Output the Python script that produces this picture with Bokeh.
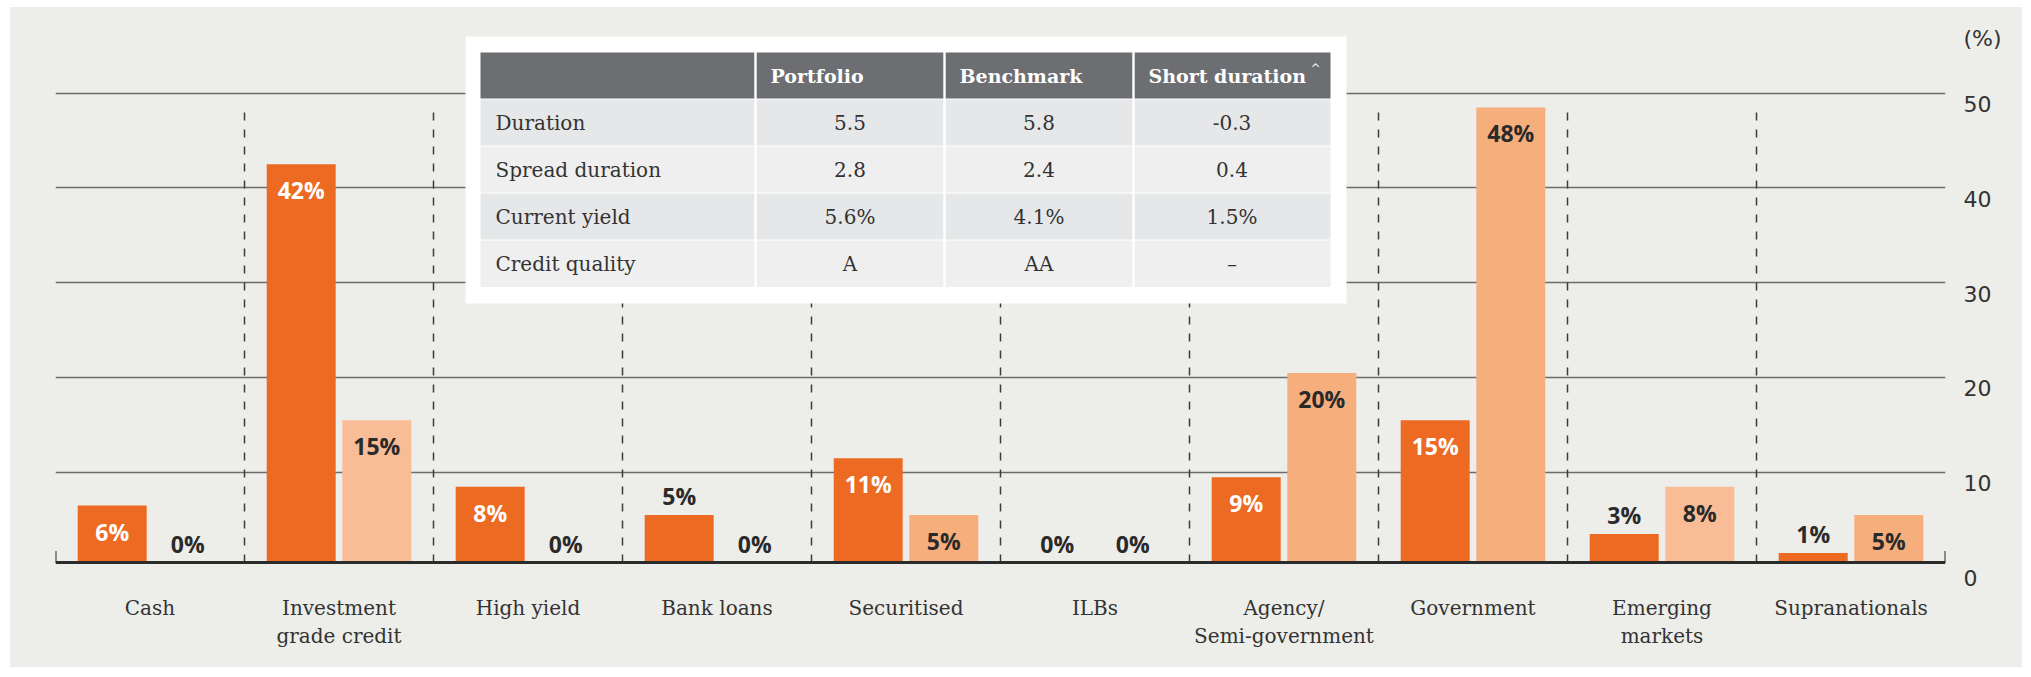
from bokeh.plotting import figure
from bokeh.models import (ColumnDataSource, FactorRange, Range1d, LinearAxis, Grid,
                          FixedTicker, Spacer)
from bokeh.layouts import row, column
from bokeh.transform import dodge
from bokeh.core.properties import value
from bokeh.embed import file_html
from bokeh.resources import INLINE

# ---------------- data ----------------
categories = ["Cash", "Investment\ngrade credit", "High yield", "Bank loans", "Securitised",
              "ILBs", "Agency/\nSemi-government", "Government", "Emerging\nmarkets",
              "Supranationals"]
portfolio = [6, 42, 8, 5, 11, 0, 9, 15, 3, 1]
benchmark = [0, 15, 0, 0, 5, 0, 20, 48, 8, 5]
y_ticks = [0, 10, 20, 30, 40, 50]
y_unit_label = "(%)"

table_header = ["Portfolio", "Benchmark", "Short duration"]
table_note_mark = "^"
table_rows = ["Duration", "Spread duration", "Current yield", "Credit quality"]
portfolio_stats = ["5.5", "2.8", "5.6%", "A"]
benchmark_stats = ["5.8", "2.4", "4.1%", "AA"]
short_duration_stats = ["-0.3", "0.4", "1.5%", "\u2013"]

# ---------------- style / layout ----------------
BG = "#EDEDE9"
ORANGE = "#EC6A22"
LIGHT_A = "#F8BD96"
LIGHT_B = "#F6AE7D"
bench_colors = [LIGHT_B, LIGHT_A, LIGHT_B, LIGHT_B, LIGHT_B, LIGHT_B, LIGHT_B, LIGHT_B, LIGHT_A, LIGHT_B]
DARK = "#2A2A2A"
SERIF = "DejaVu Serif"
SANS = "DejaVu Sans"
LABEL_FONT = "Open Sans"

OFF_X, OFF_Y = 10, 7          # panel offset on the page
W, H = 2012, 660              # panel size
FL, FR = 45, 1935             # frame left / right (panel px)
FT, FB = 0, 584               # frame top / bottom (panel px)
ZERO = 555                    # zero line (panel px)
PPU = 9.48                    # pixels per percentage point
y_start = -(FB - ZERO) / PPU
y_end = (ZERO - FT) / PPU
GRID_SHIFT = 0.48
LABEL_SHIFT = 1.69
UNIT_TICK = 57                # axis position used for the "(%)" caption
n = len(categories)
cat_px = (FR - FL) / n


def fx(X):
    return (X - OFF_X - FL) / cat_px


def fy(Y):
    return (ZERO - (Y - OFF_Y)) / PPU


p = figure(width=W, height=H, x_range=FactorRange(*categories),
           y_range=Range1d(y_start, y_end), y_axis_location=None,
           toolbar_location=None, output_backend="svg",
           min_border_left=FL, min_border_right=W - FR, min_border_top=FT,
           min_border_bottom=H - FB, background_fill_color=BG, border_fill_color=None,
           outline_line_color=None)
p.styles = {"background-color": BG}

for g in p.grid:
    g.visible = False

p.extra_y_ranges = {"grid": Range1d(y_start + GRID_SHIFT, y_end + GRID_SHIFT),
                    "lab": Range1d(y_start + LABEL_SHIFT, y_end + LABEL_SHIFT)}

grid = Grid(dimension=1, ticker=FixedTicker(ticks=y_ticks[1:]), y_range_name="grid",
            grid_line_color="#6B6B6B", grid_line_width=1.6)
p.add_layout(grid)

yax = LinearAxis(y_range_name="lab", ticker=FixedTicker(ticks=y_ticks + [UNIT_TICK]),
                 major_label_overrides={UNIT_TICK: y_unit_label},
                 axis_line_color=None, major_tick_line_color=None,
                 minor_tick_line_color=None, major_tick_in=0, major_tick_out=0,
                 minor_tick_in=0, minor_tick_out=0, major_label_standoff=18,
                 major_label_text_font=SANS, major_label_text_font_size="22px",
                 major_label_text_color="#333333")
p.add_layout(yax, "right")

xax = p.xaxis[0]
xax.axis_line_color = None
xax.major_tick_line_color = None
xax.minor_tick_line_color = None
xax.major_tick_in = 0
xax.major_tick_out = 0
xax.major_label_standoff = 4
xax.major_label_text_font = SERIF
xax.major_label_text_font_size = "20px"
xax.major_label_text_color = "#333333"

# dashed group dividers
divs = list(range(1, n))
p.segment(x0=divs, y0=[0] * len(divs), x1=divs, y1=[48.0] * len(divs),
          line_color="#3C3C3C", line_width=1.5, line_dash="8 9")

# bars
src = ColumnDataSource(dict(cat=categories, portfolio=portfolio, benchmark=benchmark,
                            bcol=bench_colors))
p.vbar(x=dodge("cat", -0.2, range=p.x_range), top="portfolio", bottom=0, width=0.365,
       source=src, fill_color=ORANGE, line_color=None)
p.vbar(x=dodge("cat", 0.2, range=p.x_range), top="benchmark", bottom=0, width=0.365,
       source=src, fill_color="bcol", line_color=None)

# baseline with end ticks
p.segment(x0=[0], y0=[0], x1=[n], y1=[0], line_color="#2B2B2B", line_width=3)
p.segment(x0=[0, n], y0=[0, 0], x1=[0, n], y1=[1.2, 1.2], line_color="#2B2B2B", line_width=2)

# bar value labels
IN_OFF = 26 / PPU
OUT_OFF = 19 / PPU


def labels(vals, min_inside, inside_color):
    ys, cs = [], []
    for v in vals:
        if v >= min_inside:
            ys.append(v - IN_OFF)
            cs.append(inside_color)
        else:
            ys.append(v + OUT_OFF)
            cs.append(DARK)
    return ys, cs


py, pc = labels(portfolio, 6, "#FFFFFF")
by, bc = labels(benchmark, 5, DARK)
lsrc = ColumnDataSource(dict(cat=categories,
                             pt=[f"{v}%" for v in portfolio], py=py, pc=pc,
                             bt=[f"{v}%" for v in benchmark], by=by, bc=bc))
p.text(x=dodge("cat", -0.2, range=p.x_range), y="py", text="pt", text_color="pc",
       source=lsrc, text_align="center", text_baseline="middle",
       text_font=value(LABEL_FONT), text_font_style="bold", text_font_size="23px")
p.text(x=dodge("cat", 0.2, range=p.x_range), y="by", text="bt", text_color="bc",
       source=lsrc, text_align="center", text_baseline="middle",
       text_font=value(LABEL_FONT), text_font_style="bold", text_font_size="23px")

# ---------------- table ----------------
box = p.quad(left=[fx(465)], right=[fx(1346)], top=[fy(36)], bottom=[fy(303)],
             fill_color="#FFFFFF", line_color=None)
box.level = "overlay"

col_edges = [480, 755, 944, 1133, 1330]
row_tops = [52, 99, 146, 193, 240]
row_h = [46, 46, 46, 46, 46.5]
row_fill = ["#6D6E72", "#E6E7E8", "#EFEFF0", "#E6E7E8", "#EFEFF0"]
ql, qr, qt, qb, qc = [], [], [], [], []
for ri, (t, h, c) in enumerate(zip(row_tops, row_h, row_fill)):
    for ci in range(len(col_edges) - 1):
        l = col_edges[ci] + (1.2 if ci > 0 else 0)
        r = col_edges[ci + 1] - (1.2 if ci < len(col_edges) - 2 else 0)
        ql.append(fx(l)); qr.append(fx(r)); qt.append(fy(t)); qb.append(fy(t + h))
        qc.append(c)
cells = p.quad(left=ql, right=qr, top=qt, bottom=qb, fill_color=qc, line_color=None)
cells.level = "overlay"

# header text
hx = [fx(col_edges[i] + 15) for i in range(1, 4)]
hy = [fy(row_tops[0] + 23)] * 3
ht = p.text(x=hx, y=hy, text=table_header, text_color="#FFFFFF", text_align="left",
            text_baseline="middle", text_font=value(SERIF), text_font_style="bold",
            text_font_size="19px")
ht.level = "overlay"
nm = p.text(x=[fx(1310)], y=[fy(68)], text=[table_note_mark], text_color="#FFFFFF",
            text_align="left", text_baseline="middle", text_font=value(SERIF),
            text_font_size="12px")
nm.level = "overlay"

# row labels and values
rx, ry, rt, ra = [], [], [], []
for i, lab in enumerate(table_rows):
    yc = fy(row_tops[i + 1] + 23)
    rx.append(fx(col_edges[0] + 15)); ry.append(yc); rt.append(lab); ra.append("left")
    for ci, vals in enumerate([portfolio_stats, benchmark_stats, short_duration_stats]):
        cx = (col_edges[ci + 1] + col_edges[ci + 2]) / 2
        rx.append(fx(cx)); ry.append(yc); rt.append(vals[i]); ra.append("center")
tsrc = ColumnDataSource(dict(x=rx, y=ry, t=rt, a=ra))
tt = p.text(x="x", y="y", text="t", text_align="a", source=tsrc, text_color="#333333",
            text_baseline="middle", text_font=value(SERIF), text_font_size="20px")
tt.level = "overlay"

layout = row(Spacer(width=OFF_X, height=H + OFF_Y),
             column(Spacer(width=W, height=OFF_Y), p))

with open("out.html", "w") as f:
    f.write(file_html(layout, INLINE))
